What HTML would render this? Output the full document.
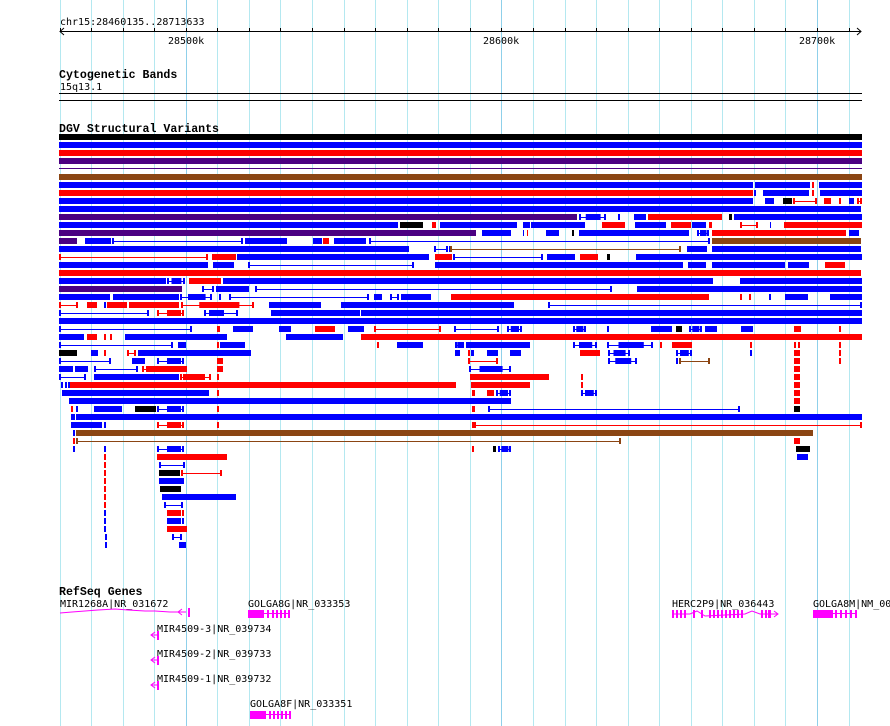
<!DOCTYPE html>
<html><head><meta charset="utf-8"><style>
body{margin:0;background:#fff;width:890px;height:726px;overflow:hidden}
svg{display:block}
text{font-family:"DejaVu Sans Mono","Liberation Mono",monospace;font-size:10px;fill:#000}
.b{font-family:"Liberation Mono",monospace;font-weight:bold;font-size:11.6px}
</style></head><body>
<svg id="s" width="890" height="726" xmlns="http://www.w3.org/2000/svg">
<g id="grid"></g>
<text x="60" y="25">chr15:28460135..28713633</text>
<line x1="60" y1="31.5" x2="861" y2="31.5" stroke="#000"/>
<path d="M64 28 L60 31.5 L64 35 M857 28 L861 31.5 L857 35" stroke="#000" fill="none"/>
<g id="ticks"></g>
<text x="168" y="44">28500k</text>
<text x="483" y="44">28600k</text>
<text x="799" y="44">28700k</text>
<text class="b" x="59" y="78">Cytogenetic Bands</text>
<text x="60" y="90">15q13.1</text>
<rect x="59" y="93" width="803" height="1" fill="#000"/>
<rect x="59" y="100" width="803" height="1" fill="#000"/>
<text class="b" x="59" y="132">DGV Structural Variants</text>
<g id="dgv"></g>
<text class="b" x="59" y="595">RefSeq Genes</text>
<text x="60" y="607">MIR1268A|NR_031672</text>
<path d="M60 613 L72 612 L85 611 L98 610 L115 609 L128 610 L145 611 L155 611 L170 612 L186 612" stroke="#f0f" fill="none"/>
<path d="M182 609 L178 612 L182 615" stroke="#f0f" fill="none"/><rect x="188" y="608" width="2" height="9" fill="#f0f"/>
<text x="248" y="607">GOLGA8G|NR_033353</text>
<g id="g1"></g>
<text x="157" y="632">MIR4509-3|NR_039734</text>
<text x="157" y="657">MIR4509-2|NR_039733</text>
<text x="157" y="682">MIR4509-1|NR_039732</text>
<g id="mir"></g>
<text x="250" y="707">GOLGA8F|NR_033351</text>
<text x="672" y="607">HERC2P9|NR_036443</text>
<text x="813" y="607">GOLGA8M|NM_00</text>
</svg>
<script>
var NS="http://www.w3.org/2000/svg";
function el(p,t,a){var e=document.createElementNS(NS,t);for(var k in a)e.setAttribute(k,a[k]);document.getElementById(p).appendChild(e);return e;}
var gx=[60,91,123,154,186,217,249,280,312,344,375,407,438,470,501,533,565,596,628,659,691,722,754,785,817,849];
gx.forEach(function(x){var m=(x==186||x==501||x==817);
el("grid","rect",{x:x,y:0,width:1,height:726,fill:m?"#8fd0ea":"#b4e8f0"});
el("ticks","rect",{x:x,y:28,width:1,height:4,fill:"#000"});});
var C={B:"#0000ff",R:"#ff0000",P:"#4b0082",N:"#8b4513",K:"#000"};
var rows={
134:"59-862K",142:"59-862B",150:"59-862R",158:"59-862P",174:"59-862N",
182:"59-753B 755-810B 812-814R 819-862B",
190:"59-753R 754-756B 763-809B 812-814R 820-862B",
198:"59-753B 765-774B 783-792K 793-817Rl 824-831R 839-841R 849-854B 857-862Rl",
206:"59-861B",
214:"59-577P 579-606Bh 618-620B 634-646B 648-722R 729-732K 734-862B",
222:"59-398B 400-423K 432-436R 440-517B 523-530Bh 531-585B 602-625R 635-666B 671-691R 692-706B 709-712R 740-758Rl 770-771B 784-862R",
230:"59-476P 482-511B 523-524B 527-528R 546-559B 572-574K 579-689B 697-709Bh 712-846R 849-859B",
238:"59-77P 85-111B 112-243Bl 245-287B 313-322B 323-329R 334-366B 369-710Bl 712-861N",
246:"59-409B 434-448Bl 449-451B 450-681Nl 687-707B 712-861B",
254:"59-208Rl 212-236R 237-429B 435-452R 453-543Bl 547-575B 580-598R 607-610K 636-862B",
262:"59-208B 213-234B 248-414Bl 435-683B 688-706B 712-785B 788-809B 825-845R",
270:"59-861R",
278:"59-166B 167-185Bh 189-221R 223-713B 740-862B",
286:"59-182P 202-214Bl 216-249B 255-612Bl 637-862B",
294:"59-110B 113-179B 180-212Bh 219-221B 229-369Bl 374-382B 390-399Bl 401-431B 451-709R 740-742R 749-751R 769-771B 785-808B 830-862B",
302:"59-78Rl 87-97R 104-106B 107-127R 129-179R 181-254Rh 269-321B 341-514B 548-862Bl",
310:"59-149Bl 157-184Rl 167-181R 204-238Bl 209-224B 271-360B 361-862B",
318:"59-862B",
326:"59-192Bl 217-220R 233-253B 279-291B 315-335R 348-364B 374-441Rl 454-499Bl 507-522Bh 573-586Bh 607-609B 651-672B 676-682K 689-702Bh 705-717B 741-753B 794-801R 839-841R",
334:"59-84B 87-97R 104-106R 110-112R 125-227B 286-343B 361-862R",
342:"59-173Bl 178-186B 217-219R 220-245B 377-379R 397-423B 455-464Bh 466-530B 573-597Bh 607-653Bh 660-662R 672-692R 750-752R 794-796R 798-800R 839-841R",
350:"59-77K 91-98B 104-106R 127-136Rl 138-251B 455-460B 468-470R 471-474B 487-498B 510-521B 580-600R 608-630Bh 676-692Bh 750-752B 794-800R 839-841R",
358:"59-111Bl 132-145B 157-184Bl 167-181B 217-223R 468-498Rl 608-637Bh 676-678B 679-710Nl 794-800R 839-841R",
366:"59-73B 75-88B 94-138Bl 142-187Rl 146-187R 217-223R 469-511Bh 794-800R",
374:"59-86Bl 94-179B 180-211Rl 183-205R 217-219R 470-549R 581-583R 794-800R",
382:"61-63B 65-67B 68-70B 70-456R 471-530R 581-583R 794-800R",
390:"62-209B 217-219R 472-475R 487-494R 496-511Bh 581-597Bh 794-800R",
398:"69-511B 794-800R",
406:"71-73R 76-78B 94-122B 135-156K 157-184Bl 167-181B 217-219R 472-475R 488-740Bl 794-800K",
414:"71-75B 76-862B",
422:"71-102B 104-106B 157-184Rl 167-181R 217-219R 472-474R 474-862Rl",
430:"73-75B 76-813N",
438:"73-75R 76-621Nl 794-800R",
446:"73-75B 104-106B 157-184Bl 167-181B 472-474R 493-496K 498-511Bh 796-810K",
454:"104-106R 157-227R 797-808B",
462:"104-106R 159-185Bl",
470:"104-106R 159-180K 181-222Rl",
478:"104-106R 159-184B",
486:"104-106R 160-181K",
494:"104-106R 162-236B",
502:"104-106R 164-183Bl",
510:"104-106B 167-181R 182-184R",
518:"104-106B 167-181B 182-184B",
526:"104-106B 167-187R",
534:"105-107B 172-182Bl",
542:"105-107B 179-186B"
};
el("dgv","rect",{x:59,y:168,width:803,height:1,fill:C.P});
for(var y in rows){y=+y;rows[y].split(" ").forEach(function(s){
var m=s.match(/^(\d+)-(\d+)([A-Z])([lh]?)$/);var a=+m[1],b=+m[2],c=C[m[3]],t=m[4];
if(t=="l"){el("dgv","rect",{x:a,y:y+3,width:b-a,height:1,fill:c});
el("dgv","rect",{x:a,y:y,width:2,height:6,fill:c});el("dgv","rect",{x:b-2,y:y,width:2,height:6,fill:c});}
else if(t=="h"){el("dgv","rect",{x:a,y:y,width:2,height:6,fill:c});el("dgv","rect",{x:b-2,y:y,width:2,height:6,fill:c});
el("dgv","rect",{x:a,y:y+3,width:b-a,height:1,fill:c});el("dgv","rect",{x:a+(b-a)*0.25,y:y,width:(b-a)*0.55,height:6,fill:c});}
else el("dgv","rect",{x:a,y:y,width:Math.max(1,b-a),height:6,fill:c});});}
function gene(g,x,y,w,exons){el(g,"rect",{x:x,y:y,width:w,height:8,fill:"#f0f"});
exons.forEach(function(e){el(g,"rect",{x:e,y:y,width:2,height:8,fill:"#f0f"});});
el(g,"rect",{x:x,y:y+3,width:exons[exons.length-1]-x,height:1,fill:"#f0f"});}
gene("g1",248,610,16,[267,272,276,280,284,288]);
gene("g1",250,711,16,[269,273,277,281,285,289]);
gene("g1",813,610,20,[835,840,845,850,855]);
var hx=[672,676,680,684,693,701,709,713,717,721,725,729,733,737,741,761,765,769];
hx.forEach(function(x){el("g1","rect",{x:x,y:610,width:2,height:8,fill:"#f0f"});});
el("g1","rect",{x:768,y:610,width:3,height:8,fill:"#f0f"});
el("g1","path",{d:"M672 614 L690 614 L697 611 L705 616 L745 614 L752 611 L760 614 L778 614 M774 611 L778 614 L774 617",stroke:"#f0f",fill:"none"});
[635,660,685].forEach(function(y){el("mir","path",{d:"M155 "+(y-3)+" L151 "+y+" L155 "+(y+3)+" M151 "+y+" L158 "+y,stroke:"#f0f",fill:"none"});
el("mir","rect",{x:157,y:y-4,width:2,height:9,fill:"#f0f"});});
</script>
</body></html>
